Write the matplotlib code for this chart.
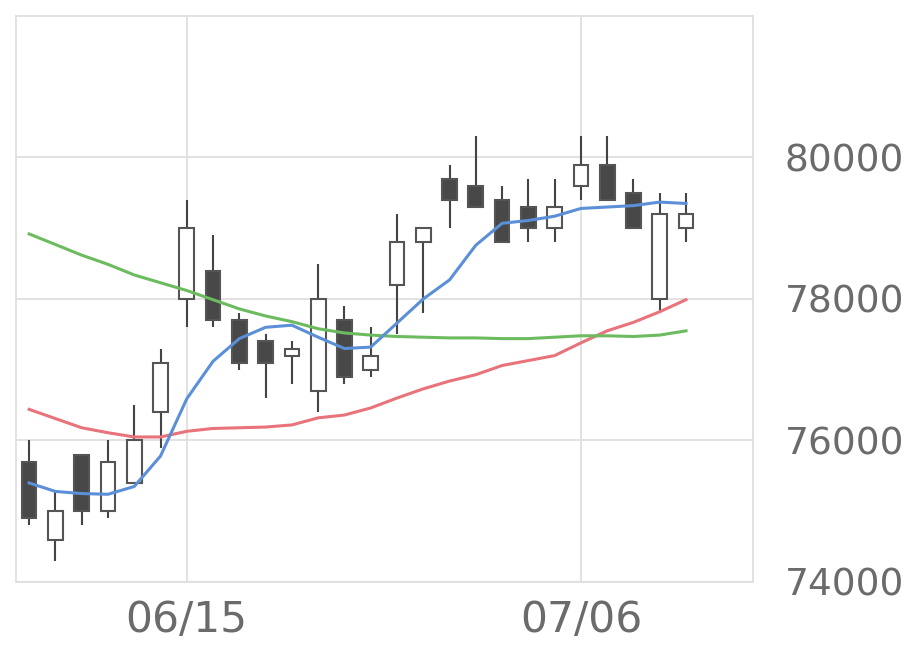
import numpy as np
import matplotlib.pyplot as plt

# 日足データ (06/05 - 07/10)
opens  = [75700, 74600, 75800, 75000, 75400, 76400, 78000, 78400, 77700, 77400, 77200, 76700, 77700,
          77000, 78200, 78800, 79700, 79600, 79400, 79300, 79000, 79600, 79900, 79500, 78000, 79000]
closes = [74900, 75000, 75000, 75700, 76000, 77100, 79000, 77700, 77100, 77100, 77300, 78000, 76900,
          77200, 78800, 79000, 79400, 79300, 78800, 79000, 79300, 79900, 79400, 79000, 79200, 79200]
highs  = [76000, 75300, 75800, 76000, 76500, 77300, 79400, 78900, 77800, 77500, 77400, 78500, 77900,
          77600, 79200, 79000, 79900, 80300, 79600, 79700, 79700, 80300, 80300, 79700, 79500, 79500]
lows   = [74800, 74300, 74800, 74900, 75400, 75900, 77600, 77600, 77000, 76600, 76800, 76400, 76800,
          76900, 77500, 77800, 79000, 79300, 78800, 78800, 78800, 79400, 79400, 79000, 77800, 78800]

ma_short = [75400, 75280, 75250, 75240, 75350, 75780, 76590, 77120, 77440, 77600, 77630, 77460, 77300,
            77320, 77660, 78000, 78270, 78760, 79070, 79110, 79170, 79280, 79300, 79320, 79370, 79350]
ma_mid   = [76440, 76310, 76180, 76110, 76050, 76050, 76130, 76170, 76180, 76190, 76220, 76320, 76360,
            76460, 76600, 76730, 76840, 76930, 77060, 77130, 77200, 77380, 77550, 77670, 77820, 77990]
ma_long  = [78920, 78770, 78620, 78490, 78340, 78230, 78120, 77990, 77860, 77760, 77680, 77580, 77520,
            77490, 77470, 77460, 77450, 77450, 77440, 77440, 77460, 77480, 77480, 77470, 77490, 77550]

tick_idx = [6, 21]
tick_labels = ["06/15", "07/06"]
y_ticks = [74000, 76000, 78000, 80000]

fig = plt.figure(figsize=(9.2, 6.69), dpi=100)
ax = fig.add_axes([16/920, 1 - 582/669, (753-16)/920, (582-16)/669])

x = np.arange(len(opens))
w = 0.56
for i in x:
    o, c, h, l = opens[i], closes[i], highs[i], lows[i]
    up = c >= o
    ax.vlines(i, l, h, color="#444444", lw=1.5, zorder=2)
    ax.bar(i, abs(c - o), bottom=min(o, c), width=w,
           color="white" if up else "#484848", edgecolor="#555555", lw=1.5, zorder=3)

ax.plot(x, ma_mid, color="#e8737a", lw=2.2, zorder=4)
ax.plot(x, ma_long, color="#6cbb5e", lw=2.2, zorder=4)
ax.plot(x, ma_short, color="#5b8fd8", lw=2.2, zorder=5)

ax.set_xlim(-0.5, 27.55)
ax.set_ylim(74000, 82000)
ax.set_xticks(tick_idx)
ax.set_xticklabels(tick_labels)
ax.set_yticks(y_ticks)
ax.yaxis.tick_right()
ax.tick_params(length=0, colors="#6b6b6b")
ax.tick_params(axis="y", labelsize=27, pad=23)
ax.tick_params(axis="x", labelsize=30.5, pad=12)
ax.grid(True, color="#dddddd", lw=1.2, zorder=0)
ax.set_axisbelow(True)
for s in ax.spines.values():
    s.set_color("#dddddd")
    s.set_linewidth(1.2)

fig.savefig("out.png", dpi=100)
